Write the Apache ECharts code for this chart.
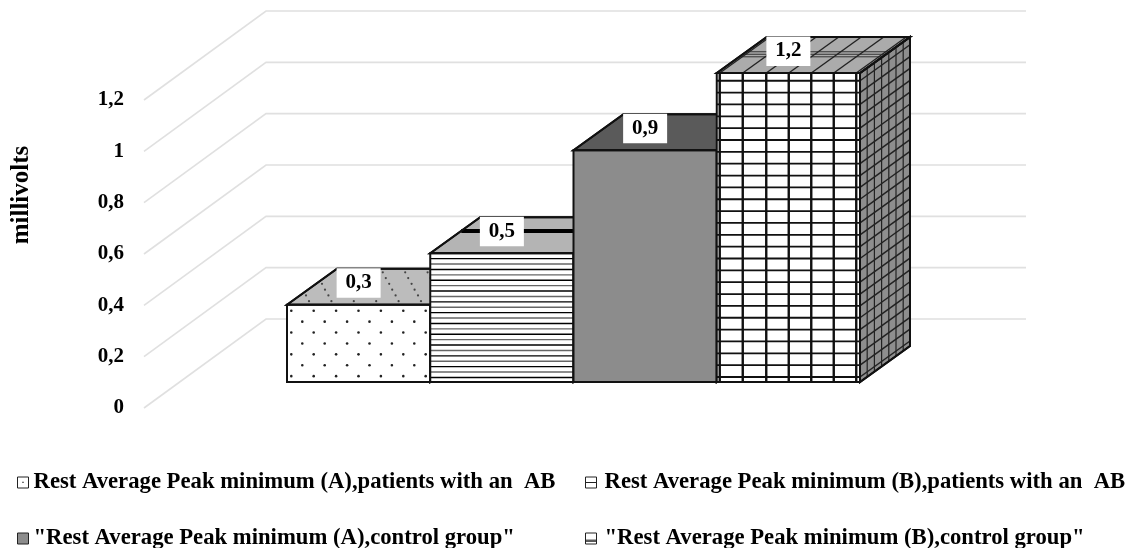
<!DOCTYPE html>
<html>
<head>
<meta charset="utf-8">
<style>html,body{margin:0;padding:0;background:#fff}#chart{width:1128px;height:548px}</style>
<script src="https://cdn.jsdelivr.net/npm/echarts@6/dist/echarts.min.js"></script>
</head>
<body>
<div id="chart"></div>
<script>
const seriesNames = [
  'Rest Average Peak minimum (A),patients with an  AB',
  'Rest Average Peak minimum (B),patients with an  AB',
  '"Rest Average Peak minimum (A),control group"',
  '"Rest Average Peak minimum (B),control group"'
];
const seriesValues = [0.3, 0.5, 0.9, 1.2];
const valueLabels = ['0,3', '0,5', '0,9', '1,2'];
const axisTicks = [0, 0.2, 0.4, 0.6, 0.8, 1, 1.2];
const axisTitle = 'millivolts';

const FONT = '"Liberation Serif","Times New Roman",serif';
const INK = '#111';
const WALL = { dx: 122, dy: -89 };
const DEPTH = { dx: 50, dy: -36 };

function line(a, b, color, width) {
  return { type: 'line', shape: { x1: a[0], y1: a[1], x2: b[0], y2: b[1] },
    style: { stroke: color, lineWidth: width, fill: null }, silent: true };
}
function poly(points, fill, stroke, width) {
  return { type: 'polygon', shape: { points }, silent: true,
    style: { fill, stroke: stroke || INK, lineWidth: width === undefined ? 2 : width, lineJoin: 'miter' } };
}
function dot(p, r, color) {
  return { type: 'circle', shape: { cx: p[0], cy: p[1], r }, style: { fill: color }, silent: true };
}

const painters = [
  function dotted(f, c) {
    let row = 0;
    for (let y = 6; y < f.h; y += 10.9, row++) {
      for (let x = row % 2 ? 15.3 : 4.3; x < f.w; x += 22.4) c.push(dot([f.x + x, f.y + y], 1.3, '#222'));
    }
    let r2 = 0;
    for (let t = 0.1; t < 0.98; t += 0.16, r2++) {
      for (let x = r2 % 2 ? 6 : 17; x < f.w + 40; x += 22.4) {
        c.push(dot([f.x + x + t * DEPTH.dx, f.y + t * DEPTH.dy], 1.1, '#444'));
      }
    }
  },
  function striped(f, c) {
    let i = 0;
    for (let y = 5.4; y < f.h; y += 5.4, i++) {
      c.push(line([f.x, f.y + y], [f.x + f.w, f.y + y], i % 2 ? '#666' : '#000', 1.4));
    }
    const t = 0.62;
    c.push(line([f.x + t * DEPTH.dx, f.y + t * DEPTH.dy], [f.x + f.w, f.y + t * DEPTH.dy], '#000', 4));
  },
  function solid() {},
  function gridded(f, c) {
    const xs = [3, 26, 49.5, 72, 94.5, 117, 139.5];
    const ySpacing = 11.85;
    for (let t = 0.45; t < 0.6; t += 0.07) {
      c.push(line([f.x + t * DEPTH.dx, f.y + t * DEPTH.dy], [f.x + f.w + t * DEPTH.dx, f.y + t * DEPTH.dy], '#333', 1));
    }
    xs.forEach(x => {
      c.push(line([f.x + x, f.y], [f.x + x, f.bottom], '#111', 2.4));
      c.push(line([f.x + x, f.y], [f.x + x + DEPTH.dx, f.y + DEPTH.dy], '#222', 1.4));
    });
    for (let y = 5; y < f.h; y += ySpacing) {
      const py = f.bottom - y;
      c.push(line([f.x, py], [f.x + f.w, py], '#111', 1.8));
      c.push(line([f.x + f.w, py], [f.x + f.w + DEPTH.dx, py + DEPTH.dy], '#222', 1.5));
    }
    for (let s = 7.2; s < DEPTH.dx; s += 7.2) {
      const k = s / DEPTH.dx;
      c.push(line([f.x + f.w + s, f.y + k * DEPTH.dy], [f.x + f.w + s, f.bottom + k * DEPTH.dy], '#222', 1.2));
    }
  }
];
const frontFill = ['#ffffff', '#ffffff', '#8c8c8c', '#ffffff'];
const topFill = ['#bcbcbc', '#b4b4b4', '#5a5a5a', '#ababab'];
const sideFill = ['#bcbcbc', '#b4b4b4', '#5a5a5a', '#8e8e8e'];

function renderBar(seriesIndex) {
  return function (params, api) {
    const idx = api.value(0), val = api.value(1);
    const top = api.coord([idx, val]), base = api.coord([idx, 0]);
    const w = api.size([1, 0])[0];
    const f = { x: top[0] - w / 2, y: top[1], w, h: base[1] - top[1], bottom: base[1] };
    const R = f.x + f.w;
    const d = DEPTH;
    const children = [
      poly([[R, f.y], [R + d.dx, f.y + d.dy], [R + d.dx, f.bottom + d.dy], [R, f.bottom]], sideFill[seriesIndex]),
      poly([[f.x, f.y], [f.x + d.dx, f.y + d.dy], [R + d.dx, f.y + d.dy], [R, f.y]], topFill[seriesIndex]),
      poly([[f.x, f.y], [R, f.y], [R, f.bottom], [f.x, f.bottom]], frontFill[seriesIndex], 'none', 0)
    ];
    painters[seriesIndex](f, children);
    children.push(
      poly([[f.x, f.y], [R, f.y], [R, f.bottom], [f.x, f.bottom]], 'none'),
      poly([[f.x, f.y], [f.x + d.dx, f.y + d.dy], [R + d.dx, f.y + d.dy], [R, f.y]], 'none'),
      poly([[R, f.y], [R + d.dx, f.y + d.dy], [R + d.dx, f.bottom + d.dy], [R, f.bottom]], 'none')
    );
    const cx = top[0], cy = top[1] - 22;
    children.push(
      { type: 'rect', shape: { x: cx - 22, y: cy - 14.5, width: 44, height: 29.5 }, style: { fill: '#fff' }, silent: true, z2: 20 },
      { type: 'text', silent: true, z2: 21, x: cx, y: cy,
        style: { text: valueLabels[seriesIndex], fill: '#000', font: 'bold 21px ' + FONT, align: 'center', verticalAlign: 'middle' } }
    );
    return { type: 'group', children };
  };
}

const wallSeries = {
  type: 'custom', name: 'wall', xAxisIndex: 0, yAxisIndex: 0, silent: true, z: 1,
  data: axisTicks.map(v => [0, v]),
  encode: { x: 0, y: 1 },
  renderItem(params, api) {
    const a = api.coord([0, api.value(1)]);
    const w = api.size([1, 0])[0];
    return { type: 'polyline', silent: true,
      shape: { points: [a, [a[0] + WALL.dx, a[1] + WALL.dy], [a[0] + WALL.dx + w, a[1] + WALL.dy]] },
      style: { stroke: '#e0e0e0', lineWidth: 1.6, fill: null } };
  }
};

const barSeries = seriesNames.map((name, i) => ({
  type: 'custom', name, xAxisIndex: 1, yAxisIndex: 1, silent: true, z: 5 + i,
  data: [[i, seriesValues[i]]],
  encode: { x: 0, y: 1 },
  itemStyle: { color: frontFill[i], borderColor: INK },
  renderItem: renderBar(i)
}));

const legendIcons = [
  'path://M0 0H10V10H0Z M4.8 4.5H5.2V5H4.8Z',
  'path://M0 0H10V10H0Z M0 5H10',
  'path://M0 0H10V10H0Z',
  'path://M0 0H10V10H0Z M0 6.5H10 M0 7.5H10'
];
const legendPos = [[17, 471], [585, 471], [17, 527], [585, 527]];
const legends = seriesNames.map((name, i) => ({
  left: legendPos[i][0], top: legendPos[i][1], selectedMode: false, padding: 0,
  itemWidth: 11, itemHeight: 11, itemGap: 0,
  data: [{ name, icon: legendIcons[i],
    itemStyle: { color: frontFill[i], borderColor: '#222', borderWidth: 1 } }],
  textStyle: { fontFamily: FONT, fontWeight: 'bold', fontSize: 22.7, color: '#000', padding: [0, 0, 0, i % 2 ? 3 : 0] }
}));

const chart = echarts.init(document.getElementById('chart'), null, { renderer: 'canvas' });
chart.setOption({
  animation: false,
  backgroundColor: '#fff',
  grid: [
    { left: 144, top: 100, width: 760, height: 308, containLabel: false },
    { left: 287, top: 73, width: 573, height: 309, containLabel: false }
  ],
  xAxis: [
    { gridIndex: 0, type: 'value', min: 0, max: 1, show: false },
    { gridIndex: 1, type: 'category', data: seriesNames, show: false }
  ],
  yAxis: [
    { gridIndex: 0, type: 'value', min: 0, max: 1.2, interval: 0.2,
      name: axisTitle, nameLocation: 'middle', nameRotate: 90, nameGap: 110,
      nameTextStyle: { fontFamily: FONT, fontWeight: 'bold', fontSize: 25, color: '#000', padding: [0, 0, 0, 118] },
      axisLine: { show: false }, axisTick: { show: false }, splitLine: { show: false },
      axisLabel: { margin: 20, fontFamily: FONT, fontWeight: 'bold', fontSize: 21, color: '#000', padding: [4, 0, 0, 0],
        formatter: v => String(v).replace('.', ',') } },
    { gridIndex: 1, type: 'value', min: 0, max: 1.2, show: false }
  ],
  legend: legends,
  series: [wallSeries].concat(barSeries)
});
</script>
</body>
</html>
